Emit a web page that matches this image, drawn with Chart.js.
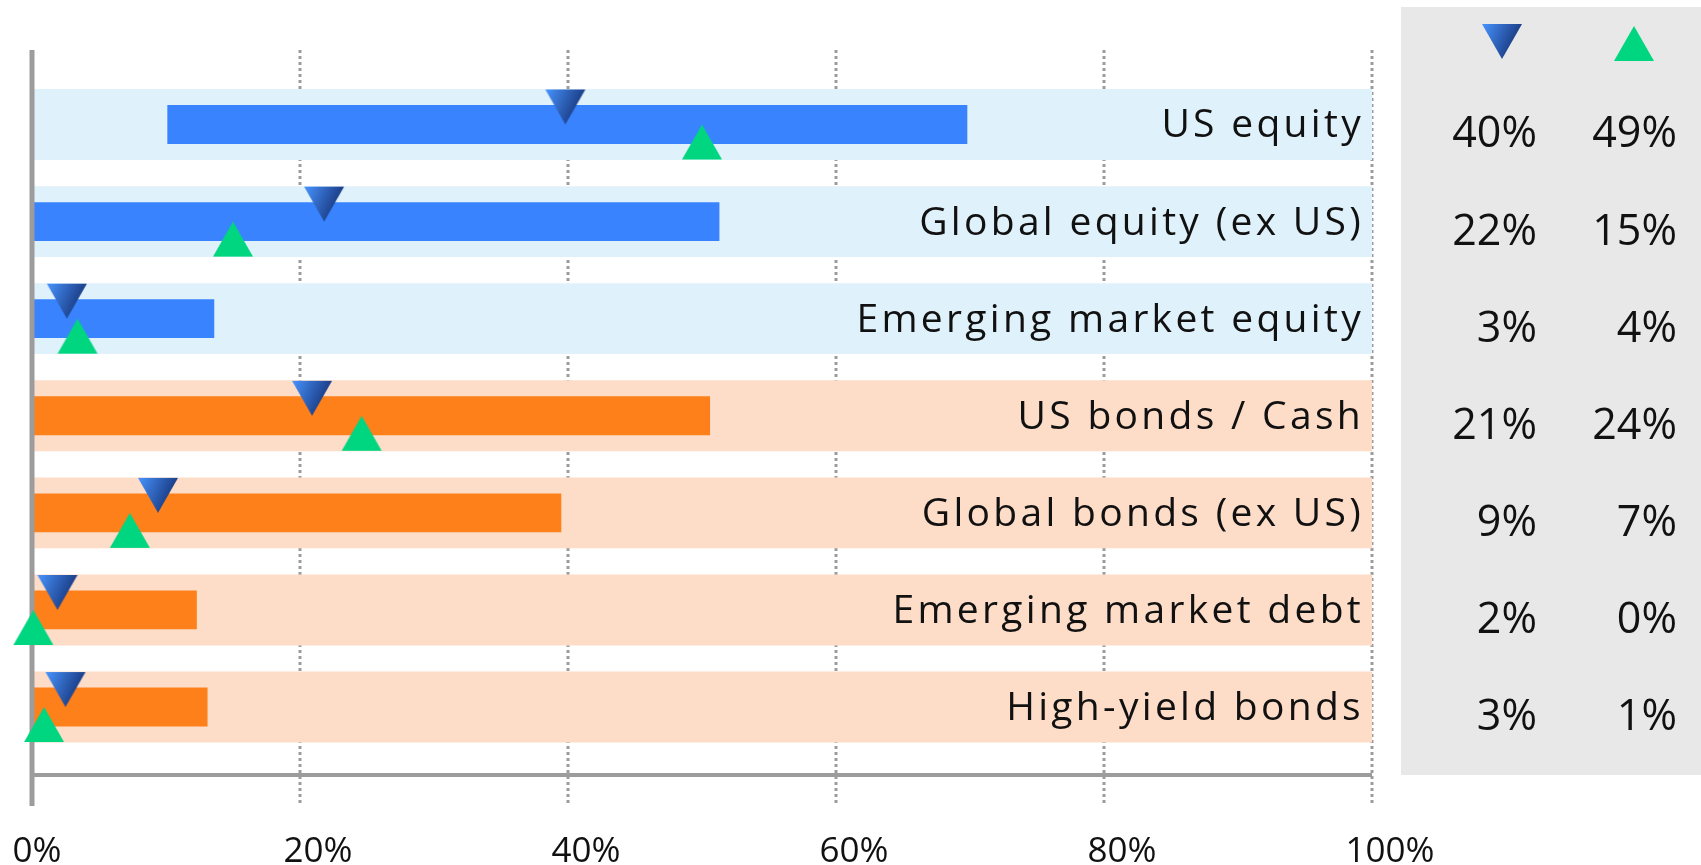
<!DOCTYPE html>
<html lang="en">
<head>
  <meta charset="UTF-8">
  <title>Allocation ranges</title>
  <script src="https://cdn.jsdelivr.net/npm/chart.js"></script>
  <style>
    html, body {
      margin: 0;
      padding: 0;
      background: #fff;
    }
    #chart {
      display: block;
    }
  </style>
</head>
<body>
  <canvas id="chart" width="1701" height="865"></canvas>

  <script>
    // Data (top row first)
    const categories = ['US equity', 'Global equity (ex US)', 'Emerging market equity', 'US bonds / Cash',
      'Global bonds (ex US)', 'Emerging market debt', 'High-yield bonds'];
    const groups = ['equity', 'equity', 'equity', 'bonds', 'bonds', 'bonds', 'bonds'];
    const rangeLow = [10.1, 0, 0, 0, 0, 0, 0];
    const rangeHigh = [69.8, 51.3, 13.6, 50.6, 39.5, 12.3, 13.1];
    const downMarks = [39.8, 21.8, 2.6, 20.9, 9.4, 1.9, 2.5];
    const upMarks = [50.0, 15.0, 3.4, 24.6, 7.3, 0.1, 0.9];
    const downLabels = ['40%', '22%', '3%', '21%', '9%', '2%', '3%'];
    const upLabels = ['49%', '15%', '4%', '24%', '7%', '0%', '1%'];
    const xTicks = [0, 20, 40, 60, 80, 100];

    const bandColor = { equity: '#dff1fa', bonds: '#fddcc8' };
    const barColor = { equity: '#3983ff', bonds: '#fd801a' };
    const gray = '#9c9c9c';

    // triangle markers, the tip / apex sits on the image centre
    function makeMarker(down) {
      const c = document.createElement('canvas');
      c.width = 44;
      c.height = 74;
      const g = c.getContext('2d');
      g.beginPath();
      if (down) {
        g.moveTo(2, 2); g.lineTo(42, 2); g.lineTo(22, 37);
      } else {
        g.moveTo(22, 37); g.lineTo(42, 72); g.lineTo(2, 72);
      }
      g.closePath();
      if (down) {
        const grad = g.createLinearGradient(2, 2, 42, 20);
        grad.addColorStop(0, '#4894ff');
        grad.addColorStop(1, '#142f72');
        g.fillStyle = grad;
      } else {
        g.fillStyle = '#00d680';
      }
      g.fill();
      return c;
    }
    const downImg = makeMarker(true);
    const upImg = makeMarker(false);

    const decor = {
      id: 'decor',
      beforeDatasetsDraw(chart) {
        const { ctx, scales: { x, y } } = chart;
        ctx.save();
        // side panel
        ctx.fillStyle = '#e8e8e8';
        ctx.fillRect(x.right + 29, 7, chart.width - x.right - 29, y.bottom - 7);
        // dotted grid lines
        ctx.strokeStyle = gray;
        ctx.lineWidth = 3;
        ctx.setLineDash([3, 3]);
        xTicks.slice(1).forEach(v => {
          const px = x.getPixelForValue(v);
          ctx.beginPath();
          ctx.moveTo(px, y.top);
          ctx.lineTo(px, y.bottom + 31);
          ctx.stroke();
        });
        ctx.restore();
      },
      afterDatasetDraw(chart, args) {
        if (args.index !== 1) return;
        const { ctx, scales: { x, y } } = chart;
        ctx.save();
        // axis lines
        ctx.strokeStyle = gray;
        ctx.lineWidth = 5;
        const x0 = x.getPixelForValue(0);
        ctx.beginPath();
        ctx.moveTo(x0, y.top);
        ctx.lineTo(x0, y.bottom + 31);
        ctx.stroke();
        ctx.lineWidth = 4;
        ctx.beginPath();
        ctx.moveTo(x0, y.bottom);
        ctx.lineTo(x.right, y.bottom);
        ctx.stroke();

        // category labels inside the bands
        ctx.fillStyle = '#111';
        ctx.font = '39px "Open Sans"';
        ctx.letterSpacing = '3.3px';
        ctx.textAlign = 'right';
        ctx.textBaseline = 'alphabetic';
        categories.forEach((c, i) => {
          ctx.fillText(c, x.right - 8, y.getPixelForValue(i) + 13);
        });
        ctx.letterSpacing = '0px';

        // x tick labels
        ctx.font = '35px "Open Sans"';
        ctx.textAlign = 'center';
        xTicks.forEach((v, i) => {
          const dx = i === 0 ? 5 : 18;
          ctx.fillText(v + '%', x.getPixelForValue(v) + dx, chart.height - 3);
        });
        ctx.restore();
      },
      afterDraw(chart) {
        const { ctx, scales: { x, y } } = chart;
        const panelX = x.right + 29;
        ctx.save();
        ctx.drawImage(downImg, panelX + 101 - 22, 59 - 37);
        ctx.drawImage(upImg, panelX + 233 - 22, 26 - 37);
        ctx.fillStyle = '#111';
        ctx.font = '43px "Open Sans"';
        ctx.textAlign = 'right';
        ctx.textBaseline = 'alphabetic';
        categories.forEach((c, i) => {
          const py = y.getPixelForValue(i) + 23;
          ctx.fillText(downLabels[i], panelX + 136, py);
          ctx.fillText(upLabels[i], panelX + 276, py);
        });
        ctx.restore();
      }
    };

    const rows = categories.map((c, i) => i);

    document.fonts.load('38px "Open Sans"').finally(() => {
      new Chart(document.getElementById('chart'), {
        type: 'bar',
        data: {
          datasets: [
            {
              label: 'Band',
              data: rows.map(i => ({ x: [0, 100], y: i })),
              backgroundColor: groups.map(g => bandColor[g]),
              barPercentage: 0.73,
              categoryPercentage: 1,
              grouped: false,
              order: 4
            },
            {
              label: 'Range',
              data: rows.map(i => ({ x: [rangeLow[i], rangeHigh[i]], y: i })),
              backgroundColor: groups.map(g => barColor[g]),
              barPercentage: 0.4,
              categoryPercentage: 1,
              grouped: false,
              order: 3
            },
            {
              type: 'scatter',
              label: 'Down',
              data: rows.map(i => ({ x: downMarks[i], y: i })),
              pointStyle: downImg,
              clip: false,
              order: 2
            },
            {
              type: 'scatter',
              label: 'Up',
              data: rows.map(i => ({ x: upMarks[i], y: i })),
              pointStyle: upImg,
              clip: false,
              order: 1
            }
          ]
        },
        options: {
          indexAxis: 'y',
          responsive: false,
          animation: false,
          events: [],
          layout: {
            padding: { left: 32, right: 329, top: 50, bottom: 90 }
          },
          plugins: {
            legend: { display: false },
            tooltip: { enabled: false }
          },
          scales: {
            x: { type: 'linear', min: 0, max: 100, display: false },
            y: {
              type: 'linear',
              min: -0.767,
              max: 6.70,
              reverse: true,
              offset: false,
              display: false,
              afterBuildTicks: s => { s.ticks = rows.map(i => ({ value: i })); }
            }
          }
        },
        plugins: [decor]
      });
    });
  </script>
</body>
</html>
